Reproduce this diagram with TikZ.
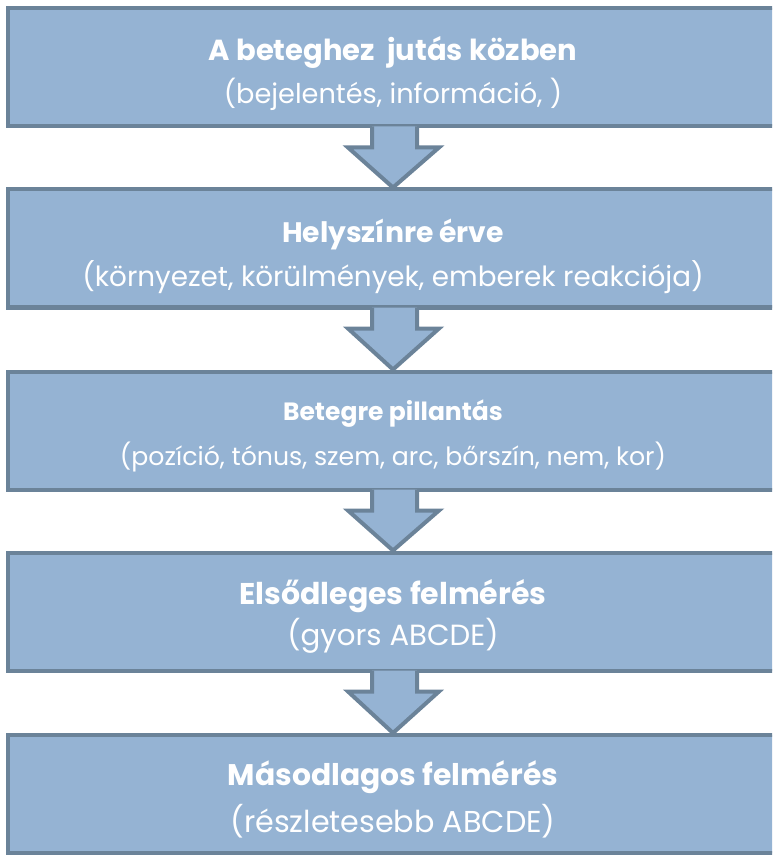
\documentclass[tikz,border=0pt]{standalone}
\usepackage{fontspec}
\setmainfont{Poppins}
\usepackage{tikz}
\usetikzlibrary{calc}

\definecolor{boxfill}{HTML}{95B3D3}
\definecolor{boxline}{HTML}{6B8399}

\tikzset{
  stepbox/.style={draw=boxline, fill=boxfill, line width=2pt,
    minimum width=385pt, minimum height=59pt, inner sep=0pt},
  steptitle/.style={text=white, font=\bfseries, anchor=base, inner sep=0pt},
  stepnote/.style={text=white, anchor=base, inner sep=0pt},
  flowarrow/.style={draw=boxline, fill=boxfill, line width=2pt, line join=miter}
}

\begin{document}
\begin{tikzpicture}[x=0.5pt, y=-0.5pt]
  \useasboundingbox (0,0) rectangle (772,855);
  \clip (0,0) rectangle (772,855);

  % the five steps, top to bottom
  \node[stepbox] (b1) at (393,67.5) {};
  \node[stepbox] (b2) at (393,248.5) {};
  \node[stepbox] (b3) at (393,430.5) {};
  \node[stepbox] (b4) at (393,611.5) {};
  \node[stepbox] (b5) at (393,794) {};

  % titles and notes, baselines measured from the box centres
  \node[steptitle, font=\bfseries\fontsize{14.5}{16}\selectfont] (t1) at ($(b1.center)+(0,-7)$) {A beteghez\ \ jutás közben};
  \node[stepnote, font=\fontsize{13.6}{16}\selectfont] (n1) at ($(b1.center)+(0,36)$) {(bejelentés, információ, )};

  \node[steptitle, font=\bfseries\fontsize{14.1}{16}\selectfont] (t2) at ($(b2.center)+(0,-5.5)$) {Helyszínre érve};
  \node[stepnote, font=\fontsize{13.9}{16}\selectfont] (n2) at ($(b2.center)+(0,37.5)$) {(környezet, körülmények, emberek reakciója)};

  \node[steptitle, font=\bfseries\fontsize{12.5}{15}\selectfont] (t3) at ($(b3.center)+(0,-10.5)$) {Betegre pillantás};
  \node[stepnote, font=\fontsize{12.6}{15}\selectfont] (n3) at ($(b3.center)+(0,34.5)$) {(pozíció, tónus, szem, arc, bőrszín, nem, kor)};

  \node[steptitle, font=\bfseries\fontsize{15}{18}\selectfont] (t4) at ($(b4.center)+(0,-7)$) {Elsődleges felmérés};
  \node[stepnote, font=\fontsize{14.6}{18}\selectfont] (n4) at ($(b4.center)+(0,34)$) {(gyors ABCDE)};

  \node[steptitle, font=\bfseries\fontsize{14.9}{18}\selectfont] (t5) at ($(b5.center)+(0,-9)$) {Másodlagos felmérés};
  \node[stepnote, font=\fontsize{15.1}{18}\selectfont] (n5) at ($(b5.center)+(0,38)$) {(részletesebb ABCDE)};

  % block arrows between the steps
  \foreach \a/\b in {b1/b2, b2/b3, b3/b4, b4/b5} {
    \draw[flowarrow] ($(\a.south)+(-21,-2)$) -- ($(\a.south)+(-21,19)$)
      -- ($(\a.south)+(-45,19)$) -- (\b.north) -- ($(\a.south)+(46,19)$)
      -- ($(\a.south)+(24,19)$) -- ($(\a.south)+(24,-2)$);
  }
\end{tikzpicture}
\end{document}
